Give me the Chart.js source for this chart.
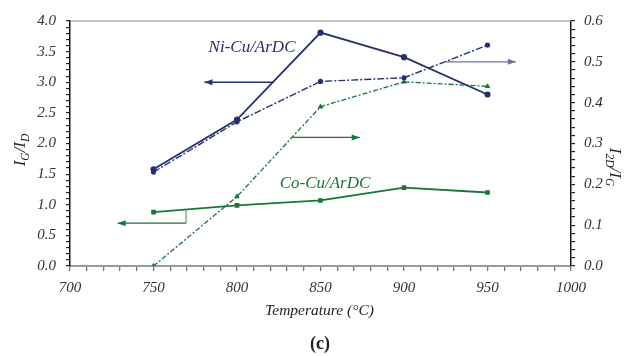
<!DOCTYPE html>
<html>
<head>
<meta charset="utf-8">
<script src="https://cdn.jsdelivr.net/npm/chart.js@4"></script>
<style>
  html, body { margin: 0; padding: 0; background: #fff; }
  #wrap { width: 626px; height: 356px; }
</style>
</head>
<body>
<div id="wrap"><canvas id="chart" width="626" height="356"></canvas></div>
<script>
// ─── Data ─────────────────────────────────────────────────────────────────────
const temps = [750, 800, 850, 900, 950];

const niCuGD   = [1.58, 2.39, 3.81, 3.41, 2.80];   // I_G/I_D, left axis
const niCu2DG  = [0.23, 0.353, 0.452, 0.461, 0.541]; // I_2D/I_G, right axis
const coCuGD   = [0.88, 0.99, 1.07, 1.28, 1.20];   // I_G/I_D, left axis
const coCu2DG  = [0.0, 0.17, 0.39, 0.451, 0.440];  // I_2D/I_G, right axis

const xTicks  = [700, 750, 800, 850, 900, 950, 1000];

const NAVY  = '#25306e';
const GREEN = '#18753b';
const SERIF = "'Liberation Serif', 'DejaVu Serif', serif";

const pts = (ys) => temps.map((t, i) => ({ x: t, y: ys[i] }));

// ─── Annotations (arrows + labels), drawn through the scales ──────────────────
function arrow(ctx, x1, y1, x2, y2, color) {
  ctx.save();
  ctx.strokeStyle = color;
  ctx.fillStyle = color;
  ctx.lineWidth = 1.4;
  ctx.beginPath();
  ctx.moveTo(x1, y1);
  ctx.lineTo(x2, y2);
  ctx.stroke();
  const a = Math.atan2(y2 - y1, x2 - x1);
  ctx.beginPath();
  ctx.moveTo(x2, y2);
  ctx.lineTo(x2 - 8 * Math.cos(a) + 3 * Math.sin(a), y2 - 8 * Math.sin(a) - 3 * Math.cos(a));
  ctx.lineTo(x2 - 8 * Math.cos(a) - 3 * Math.sin(a), y2 - 8 * Math.sin(a) + 3 * Math.cos(a));
  ctx.closePath();
  ctx.fill();
  ctx.restore();
}

function subText(ctx, parts, size) {
  // parts: [text, isSub]
  let w = 0;
  parts.forEach(([t, sub]) => {
    ctx.font = `italic ${sub ? size * 0.68 : size}px ${SERIF}`;
    w += ctx.measureText(t).width;
  });
  let x = -w / 2;
  parts.forEach(([t, sub]) => {
    ctx.font = `italic ${sub ? size * 0.68 : size}px ${SERIF}`;
    ctx.fillText(t, x, sub ? size * 0.28 : 0);
    x += ctx.measureText(t).width;
  });
}

const decor = {
  id: 'decor',
  afterDraw(chart) {
    const { ctx, chartArea: ca, scales } = chart;
    const X = (v) => scales.x.getPixelForValue(v);
    const Y = (v) => scales.y.getPixelForValue(v);
    const Y2 = (v) => scales.y2.getPixelForValue(v);

    // top frame line
    ctx.save();
    ctx.strokeStyle = '#8a8a8a';
    ctx.lineWidth = 1.2;
    ctx.beginPath();
    ctx.moveTo(ca.left, ca.top);
    ctx.lineTo(ca.right, ca.top);
    ctx.stroke();
    ctx.restore();

    // arrows
    arrow(ctx, X(821.8), Y(3.0), X(780.5), Y(3.0), NAVY);
    arrow(ctx, X(833), Y2(0.315), X(873.5), Y2(0.315), GREEN);
    arrow(ctx, X(924), Y2(0.5), X(967), Y2(0.5), '#6a72a4');
    ctx.save();
    ctx.strokeStyle = '#5e9b70';
    ctx.lineWidth = 1.2;
    ctx.beginPath();
    ctx.moveTo(X(769.5), Y(0.925));
    ctx.lineTo(X(769.5), Y(0.70));
    ctx.stroke();
    ctx.restore();
    arrow(ctx, X(769.5), Y(0.70), X(728.5), Y(0.70), GREEN);

    // series labels
    ctx.save();
    ctx.textAlign = 'center';
    ctx.textBaseline = 'middle';
    ctx.font = `italic 17px ${SERIF}`;
    ctx.fillStyle = NAVY;
    ctx.fillText('Ni-Cu/ArDC', X(809), Y(3.57));
    ctx.fillStyle = GREEN;
    ctx.fillText('Co-Cu/ArDC', X(852.7), Y(1.35));

    // axis titles
    ctx.fillStyle = '#222';
    ctx.font = `italic 15.5px ${SERIF}`;
    ctx.fillText('Temperature (°C)', (ca.left + ca.right) / 2 - 1, 311);
    ctx.font = `bold 18px ${SERIF}`;
    ctx.fillText('(c)', 320, 344);

    ctx.textAlign = 'left';
    ctx.save();
    ctx.translate(21, 150);
    ctx.rotate(-Math.PI / 2);
    subText(ctx, [['I', false], ['G', true], ['/I', false], ['D', true]], 17);
    ctx.restore();

    ctx.save();
    ctx.translate(614, 167);
    ctx.rotate(Math.PI / 2);
    subText(ctx, [['I', false], ['2D', true], ['/I', false], ['G', true]], 17);
    ctx.restore();
    ctx.restore();
  }
};

// ─── Chart ────────────────────────────────────────────────────────────────────
const tickFont = { family: SERIF, style: 'italic', size: 15 };

new Chart(document.getElementById('chart'), {
  type: 'line',
  data: {
    datasets: [
      {
        label: 'Ni-Cu IG/ID', data: pts(niCuGD), yAxisID: 'y',
        borderColor: NAVY, backgroundColor: NAVY, borderWidth: 1.8,
        pointRadius: 2.2, pointStyle: 'circle',
      },
      {
        label: 'Ni-Cu I2D/IG', data: pts(niCu2DG), yAxisID: 'y2',
        borderColor: NAVY, backgroundColor: NAVY, borderWidth: 1.4,
        borderDash: [7, 2, 2, 2], pointRadius: 2, pointBorderWidth: 1.2,
        pointStyle: 'circle',
      },
      {
        label: 'Co-Cu IG/ID', data: pts(coCuGD), yAxisID: 'y',
        borderColor: GREEN, backgroundColor: GREEN, borderWidth: 1.8,
        pointRadius: 2, pointStyle: 'rect',
      },
      {
        label: 'Co-Cu I2D/IG', data: pts(coCu2DG), yAxisID: 'y2',
        borderColor: GREEN, backgroundColor: GREEN, borderWidth: 1.3,
        borderDash: [5, 2, 2, 2], pointRadius: 2.5, pointBorderWidth: 1,
        pointStyle: 'triangle',
      },
    ],
  },
  options: {
    responsive: false,
    animation: false,
    layout: { padding: { top: 21, left: 0, right: 0, bottom: 0 } },
    plugins: { legend: { display: false }, tooltip: { enabled: false } },
    scales: {
      x: {
        type: 'linear', min: 700, max: 1000,
        afterFit: (s) => { s.height = 90; },
        afterBuildTicks: (s) => {
          const t = [];
          for (let v = 700; v <= 1000; v += 10) t.push({ value: v });
          s.ticks = t;
        },
        ticks: {
          autoSkip: false, maxRotation: 0, padding: 8, color: '#333', font: tickFont,
          callback: (v) => (xTicks.includes(v) ? String(v) : ''),
        },
        grid: { drawOnChartArea: false, tickLength: 5, color: '#777', lineWidth: 1.3 },
        border: { color: '#999', width: 2 },
      },
      y: {
        position: 'left', min: 0, max: 4,
        afterFit: (s) => { s.width = 70; },
        afterBuildTicks: (s) => {
          const t = [];
          for (let i = 0; i <= 40; i++) t.push({ value: i / 10 });
          s.ticks = t;
        },
        ticks: {
          autoSkip: false, padding: 10, color: '#333', font: tickFont,
          callback: (v) => (Math.round(v * 10) % 5 === 0 ? v.toFixed(1) : ''),
        },
        grid: { drawOnChartArea: false, tickLength: 4, color: '#222', lineWidth: 1.2 },
        border: { color: '#111', width: 1.5 },
      },
      y2: {
        position: 'right', min: 0, max: 0.6,
        afterFit: (s) => { s.width = 55; },
        afterBuildTicks: (s) => {
          const t = [];
          for (let i = 0; i <= 30; i++) t.push({ value: i / 50 });
          s.ticks = t;
        },
        ticks: {
          autoSkip: false, padding: 9, color: '#333', font: tickFont,
          callback: (v) => (Math.round(v * 50) % 5 === 0 ? v.toFixed(1) : ''),
        },
        grid: { drawOnChartArea: false, tickLength: 4, color: '#222', lineWidth: 1.2 },
        border: { color: '#111', width: 1.5 },
      },
    },
  },
  plugins: [decor],
});
</script>
</body>
</html>
